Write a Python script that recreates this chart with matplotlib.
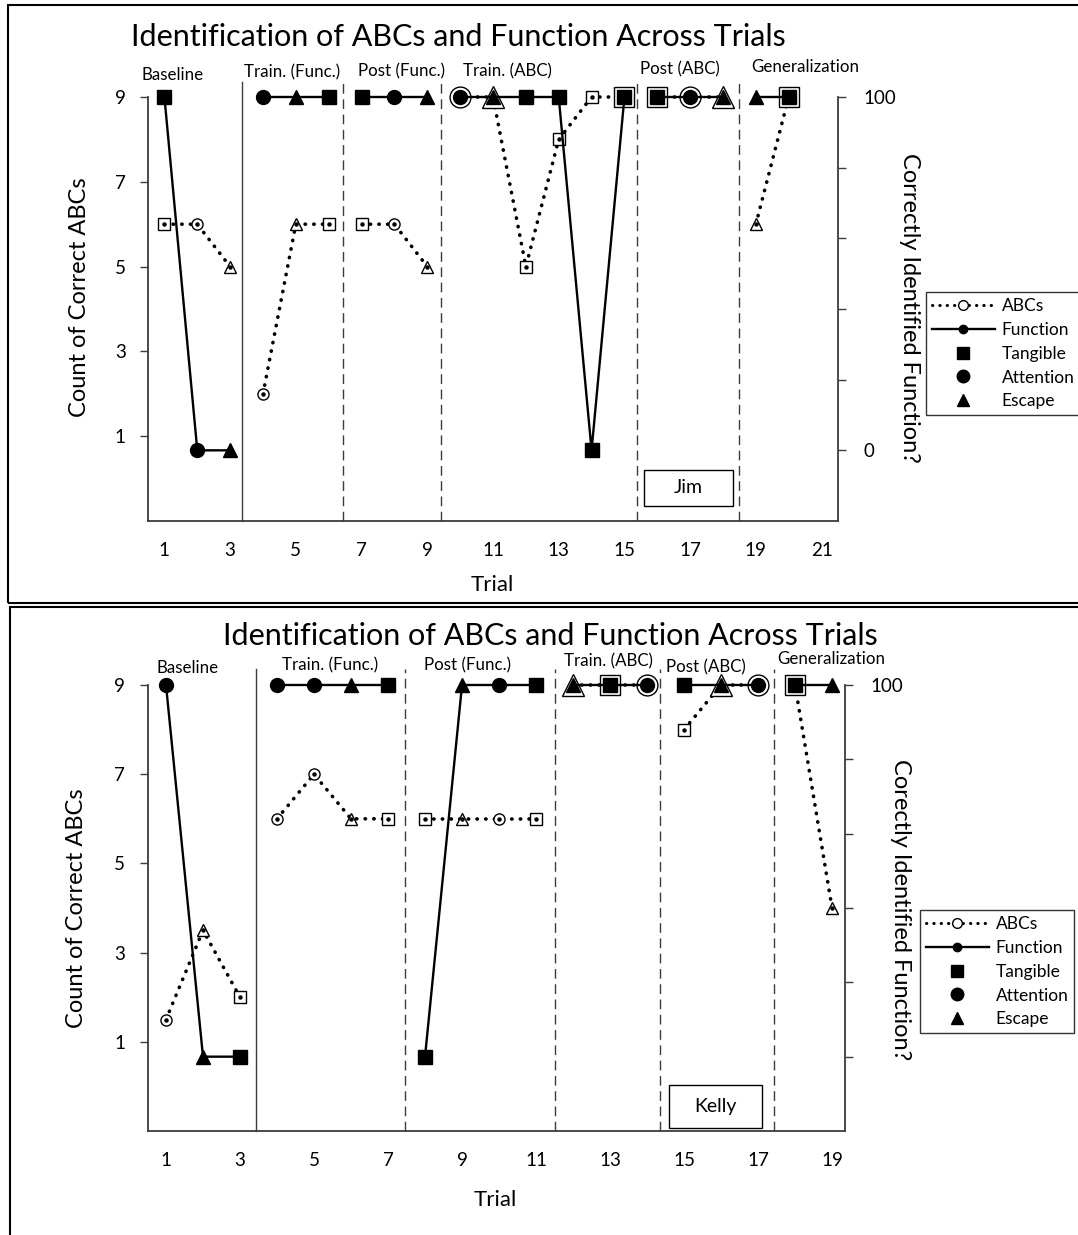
import numpy as np
import matplotlib
matplotlib.use('Agg')
import matplotlib.pyplot as plt
import matplotlib.transforms as mtransforms
from matplotlib.lines import Line2D
from matplotlib.patches import Rectangle

plt.rcParams['font.family'] = ['Lato', 'DejaVu Sans']

#%% data
jim_trials = list(range(1, 21))
jim_abc = [6, 6, 5, 2, 6, 6, 6, 6, 5, 9, 9, 5, 8, 9, 9, 9, 9, 9, 6, 9]
jim_func = [100, 0, 0, 100, 100, 100, 100, 100, 100, 100, 100, 100, 100, 0, 100,
            100, 100, 100, 100, 100]
jim_kind = ['T', 'A', 'E', 'A', 'E', 'T', 'T', 'A', 'E', 'A', 'E', 'T', 'T', 'T', 'T',
            'T', 'A', 'E', 'E', 'T']
jim_phases = [(1, 3), (4, 6), (7, 9), (10, 15), (16, 18), (19, 20)]

kelly_trials = list(range(1, 20))
kelly_abc = [1.5, 3.5, 2, 6, 7, 6, 6, 6, 6, 6, 6, 9, 9, 9, 8, 9, 9, 9, 4]
kelly_func = [100, 0, 0, 100, 100, 100, 100, 0, 100, 100, 100, 100, 100, 100,
              100, 100, 100, 100, 100]
kelly_kind = ['A', 'E', 'T', 'A', 'A', 'E', 'T', 'T', 'E', 'A', 'T', 'E', 'T', 'A',
              'T', 'E', 'A', 'T', 'E']
kelly_phases = [(1, 3), (4, 7), (8, 11), (12, 14), (15, 17), (18, 19)]

phase_names = ['Baseline', 'Train. (Func.)', 'Post (Func.)', 'Train. (ABC)',
               'Post (ABC)', 'Generalization']
x_ticks_jim = [1, 3, 5, 7, 9, 11, 13, 15, 17, 19, 21]
x_ticks_kelly = [1, 3, 5, 7, 9, 11, 13, 15, 17, 19]

#%%
W, H = 1078, 1235
fig = plt.figure(figsize=(W / 100, H / 100), dpi=100)

MARK = {'T': 's', 'A': 'o', 'E': '^'}
BIG = {'T': 14, 'A': 15, 'E': 16}
DOT = (0, (0.1, 2.3))
GREY = '#3c3c3c'


def px_rect(l, t, r, b):
    return [l / W, 1 - b / H, (r - l) / W, (b - t) / H]


def panel(rect, trials, abc, func, kind, phases, xlim, xticks, bounds,
          label_x, label_y, ylab_right, right_labels, name, name_box,
          title_xy, leg_xy, ylab_xy, rlab_xy, xlab_xy):
    ax = fig.add_axes(rect)
    ax2 = ax.twinx()
    ax.set_xlim(*xlim)
    ax.set_ylim(-1, 9)
    ax2.set_ylim(-20, 100)

    trials = np.array(trials)
    abc = np.array(abc, dtype=float)
    func = np.array(func, dtype=float)

    for a, b in phases:
        m = (trials >= a) & (trials <= b)
        ax.plot(trials[m], abc[m], color='black', ls=DOT, lw=2.6,
                dash_capstyle='round', clip_on=False, zorder=2)
        ax2.plot(trials[m], func[m], color='black', lw=1.7, clip_on=False, zorder=2)

    for t, v, f, k in zip(trials, abc, func, kind):
        over = (v == 9) and (f == 100)
        ms = BIG[k] if over else 8
        ax.plot(t, v, marker=MARK[k], ms=ms, mfc='white', mec='black', mew=1.0,
                ls='none', clip_on=False, zorder=3)
        if not over:
            ax.plot(t, v, marker='o', ms=2.2, color='black', ls='none',
                    clip_on=False, zorder=4)
        ax2.plot(t, f, marker=MARK[k], ms=10, color='black', ls='none',
                 clip_on=False, zorder=4)

    for i, xb in enumerate(bounds):
        ax.axvline(xb, ymin=0, ymax=1.035, color=GREY, lw=1.0,
                   ls='-' if i == 0 else (0, (7, 4)), clip_on=False, zorder=1)

    trans = mtransforms.blended_transform_factory(ax.transData, ax.transAxes)
    for nm, lx, ly in zip(phase_names, label_x, label_y):
        ax.text(lx, ly, nm, transform=trans, ha='center', va='center', fontsize=12.2)

    for s in ['top', 'right']:
        ax.spines[s].set_visible(False)
    for s in ['top', 'left', 'bottom']:
        ax2.spines[s].set_visible(False)
    for a_ in (ax, ax2):
        for s in a_.spines.values():
            s.set_color(GREY)
            s.set_linewidth(1.3)

    ax.set_yticks([1, 3, 5, 7, 9])
    ax.set_xticks(xticks)
    ax.tick_params(axis='x', length=0, pad=15, labelsize=13.5)
    ax.tick_params(axis='y', length=6, width=1, color=GREY, pad=10, labelsize=13.5)
    ax2.set_yticks([0, 20, 40, 60, 80, 100])
    ax2.set_yticklabels(right_labels)
    ax2.tick_params(axis='y', length=6, width=1, color=GREY, pad=12, labelsize=13.5)

    ax.set_ylabel('Count of Correct ABCs', fontsize=17)
    ax.yaxis.set_label_coords(*ylab_xy)
    ax2.set_ylabel(ylab_right, fontsize=17, rotation=-90, va='center')
    ax2.yaxis.set_label_coords(*rlab_xy)
    ax.set_xlabel('Trial', fontsize=16, va='center')
    ax.xaxis.set_label_coords(*xlab_xy)

    bx, by, bw, bh = name_box
    ax.add_patch(Rectangle((bx, by), bw, bh, transform=ax.transAxes, fc='white',
                           ec='black', lw=1.0, zorder=5, clip_on=False))
    ax.text(bx + bw / 2, by + bh / 2, name, transform=ax.transAxes, ha='center',
            va='center', fontsize=14, zorder=6)

    fig.text(title_xy[0] / W, 1 - title_xy[1] / H,
             'Identification of ABCs and Function Across Trials',
             ha='center', va='center', fontsize=22)

    handles = [
        Line2D([], [], color='black', ls=DOT, lw=2.2, dash_capstyle='round',
               marker='o', ms=7, mfc='white', mec='black'),
        Line2D([], [], color='black', lw=1.7, marker='o', ms=6),
        Line2D([], [], color='black', ls='none', marker='s', ms=8),
        Line2D([], [], color='black', ls='none', marker='o', ms=9),
        Line2D([], [], color='black', ls='none', marker='^', ms=9),
    ]
    fig.legend(handles, ['ABCs', 'Function', 'Tangible', 'Attention', 'Escape'],
               loc='upper left', bbox_to_anchor=(leg_xy[0] / W, 1 - leg_xy[1] / H),
               fontsize=12.5, frameon=True, fancybox=False, edgecolor='black',
               handlelength=3.6, handletextpad=0.4, borderpad=0.35,
               labelspacing=0.45, borderaxespad=0)
    fig.legends[-1].get_frame().set_linewidth(1.0)
    return ax


panel(px_rect(148, 97, 838, 521), jim_trials, jim_abc, jim_func, jim_kind,
      jim_phases, (0.5, 21.5), x_ticks_jim, [3.36, 6.44, 9.43, 15.38, 18.48],
      [1.26, 4.88, 8.22, 11.45, 16.68, 20.5],
      [1.052, 1.059, 1.061, 1.061, 1.064, 1.071],
      'Correctly Identified Function?', ['0', '', '', '', '', '100'],
      'Jim', (0.7188, 0.0354, 0.129, 0.0849), (458, 37), (926, 292),
      (-0.084, 0.528), (1.104, 0.502), (0.4986, -0.151))

panel(px_rect(147.5, 685, 845, 1131), kelly_trials, kelly_abc, kelly_func,
      kelly_kind, kelly_phases, (0.5, 19.35), x_ticks_kelly,
      [3.43, 7.47, 11.52, 14.36, 17.42],
      [1.57, 5.43, 9.16, 12.97, 15.59, 18.99],
      [1.038, 1.043, 1.045, 1.052, 1.040, 1.058],
      'Corectly Identified Function?', ['', '', '', '', '', '100'],
      'Kelly', (0.7477, 0.0067, 0.1333, 0.0964), (550, 636), (920, 910),
      (-0.0867, 0.5), (1.079, 0.496), (0.498, -0.155))

# outer frames of the two screenshots
fig.patches.append(Rectangle((8 / W, 1 - 603 / H), 1.2, 598 / H, transform=fig.transFigure,
                             fill=False, ec='black', lw=1.5))
fig.patches.append(Rectangle((10 / W, -0.1), 1.2, (1235 - 607) / H + 0.1,
                             transform=fig.transFigure, fill=False, ec='black', lw=1.5))

fig.savefig('out.png', dpi=100)
